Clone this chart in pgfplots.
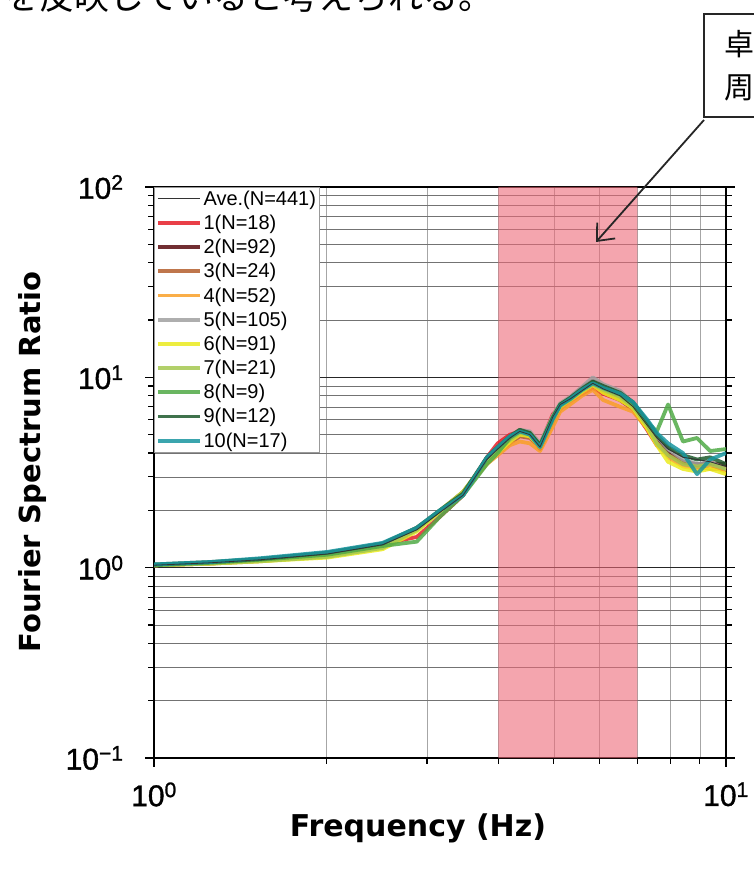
\documentclass[border=0pt]{standalone}
\usepackage{pgfplots}
\pgfplotsset{compat=1.18}
\usepackage{pgfplotstable}
\usepackage{fontspec}
\usetikzlibrary{arrows.meta}
\setmainfont{Liberation Sans}
\newfontfamily\labfont{DejaVu Sans}
\newfontfamily\jpfont{Noto Sans CJK JP}
\newfontfamily\tickfont[FakeBold=1.2]{Liberation Sans}

\definecolor{shade}{RGB}{237,105,120}
\definecolor{cA}{RGB}{230,30,40}
\definecolor{cB}{RGB}{90,10,15}
\definecolor{cC}{RGB}{180,95,45}
\definecolor{cD}{RGB}{250,160,40}
\definecolor{cE}{RGB}{160,160,160}
\definecolor{cF}{RGB}{235,235,30}
\definecolor{cG}{RGB}{165,200,80}
\definecolor{cH}{RGB}{80,170,70}
\definecolor{cI}{RGB}{30,90,45}
\definecolor{cJ}{RGB}{25,150,160}

\pgfplotstableread{
f    ave  s1   s2   s3   s4   s5   s6   s7   s8   s9   s10
1.00 1.03 1.03 1.03 1.03 1.03 1.03 1.03 1.03 1.03 1.04 1.04
1.25 1.06 1.06 1.06 1.05 1.05 1.06 1.05 1.05 1.06 1.07 1.07
1.53 1.10 1.10 1.11 1.09 1.08 1.10 1.08 1.08 1.10 1.11 1.12
2.01 1.18 1.19 1.19 1.17 1.15 1.18 1.13 1.14 1.17 1.20 1.21
2.51 1.32 1.33 1.33 1.33 1.30 1.32 1.25 1.27 1.30 1.34 1.35
2.88 1.58 1.45 1.60 1.62 1.60 1.57 1.55 1.58 1.37 1.62 1.62
3.16 1.95 1.85 1.97 1.98 1.98 1.95 1.97 2.00 1.85 2.00 2.00
3.47 2.40 2.40 2.40 2.50 2.50 2.40 2.50 2.50 2.40 2.45 2.40
3.82 3.70 3.80 3.70 3.60 3.50 3.70 3.60 3.70 3.50 3.80 3.80
3.99 4.20 4.50 4.10 4.00 3.90 4.20 4.00 4.10 4.00 4.30 4.30
4.19 4.80 5.00 4.70 4.50 4.40 4.90 4.60 4.70 4.80 4.90 4.90
4.36 5.20 5.20 5.10 4.90 4.60 5.30 5.00 5.10 5.20 5.30 5.20
4.54 5.00 4.90 5.00 4.80 4.50 5.20 4.90 5.00 5.10 5.10 5.00
4.73 4.30 4.40 4.20 4.30 4.10 4.50 4.30 4.30 4.40 4.40 4.30
4.98 6.20 6.40 5.90 5.80 5.50 6.30 6.00 6.10 6.20 6.10 6.00
5.13 7.20 7.00 7.00 6.80 6.60 7.30 7.00 7.10 7.20 7.20 7.10
5.34 7.70 7.50 7.80 7.60 7.20 7.90 7.60 7.60 7.70 7.80 7.70
5.60 8.50 8.20 8.80 8.60 8.00 8.90 8.40 8.50 8.60 8.70 8.60
5.85 9.30 8.80 9.60 9.30 8.60 10.0 9.10 9.20 9.40 9.50 9.30
6.10 8.70 8.20 9.00 8.40 7.60 9.20 8.30 8.60 8.80 9.00 8.80
6.53 8.00 7.60 8.20 7.60 7.00 8.50 7.60 7.90 8.10 8.30 8.20
6.88 7.00 6.80 7.00 6.80 6.60 7.30 6.90 7.00 7.20 7.40 7.40
7.28 5.60 5.30 5.50 5.40 5.40 5.80 5.40 5.60 5.80 5.90 6.00
7.57 4.80 4.40 4.60 4.50 4.50 4.90 4.40 4.50 5.20 5.00 5.10
7.92 4.20 3.90 4.00 3.90 3.80 4.20 3.60 3.90 7.20 4.30 4.50
8.41 3.80 3.50 3.60 3.60 3.40 3.70 3.30 3.50 4.60 3.90 4.00
8.90 3.70 3.40 3.50 3.40 3.30 3.50 3.20 3.40 4.80 3.70 3.10
9.38 3.60 3.60 3.50 3.30 3.40 3.60 3.30 3.50 4.10 3.80 3.70
10.0 3.40 3.30 3.50 3.30 3.20 3.30 3.10 3.30 4.20 3.50 4.00
}\spec

\begin{document}
\begin{tikzpicture}[x=1pt,y=1pt]
\useasboundingbox (0,0) rectangle (753,876);
\begin{axis}[
  at={(154pt,118pt)}, anchor=south west,
  scale only axis, width=572pt, height=571pt,
  xmode=log, ymode=log,
  xmin=1, xmax=10, ymin=0.1, ymax=100,
  xtick={1,10}, xticklabels={10\textsuperscript{0},10\textsuperscript{1}},
  ytick={0.1,1,10,100},
  yticklabels={10\textsuperscript{−1},10\textsuperscript{0},10\textsuperscript{1},10\textsuperscript{2}},
  minor xtick={2,3,4,5,6,7,8,9},
  minor ytick={0.2,0.3,0.4,0.5,0.6,0.7,0.8,0.9,2,3,4,5,6,7,8,9,20,30,40,50,60,70,80,90},
  ticklabel style={font=\tickfont\fontsize{30}{30}\selectfont},
  yticklabel style={xshift=-18pt},
  xticklabel style={yshift=-12pt},
  xtick pos=bottom, ytick pos=both,
  tick align=outside,
  major tick length=9pt, minor tick length=6pt,
  tick style={black, line width=1.2pt},
  axis line style={line width=1.8pt},
  grid=both,
  major grid style={black!85, line width=1.1pt},
  minor x grid style={black!35, line width=0.6pt},
  minor y grid style={black!55, line width=0.6pt},
  legend cell align=left,
  legend style={at={(axis description cs:0,1)}, anchor=north west,
    draw=black!40, line width=0.5pt, fill=white,
    font=\fontsize{20}{22}\selectfont, inner sep=2pt,
    nodes={inner sep=1.5pt}, row sep=5.2pt},
  legend image code/.code={\draw[#1] (0pt,0pt) -- (42pt,0pt);},
]
\addplot[fill=shade, fill opacity=0.6, draw=none, forget plot]
  coordinates {(4,0.1) (7,0.1) (7,100) (4,100) (4,0.1)};
\addplot[black!80, line width=0.8pt] table[x=f,y=ave]{\spec};
\addlegendentry{Ave.(N=441)}
\addplot[cA, line width=3.8pt, opacity=0.85, line join=round] table[x=f,y=s1]{\spec};
\addlegendentry{1(N=18)}
\addplot[cB, line width=3.8pt, opacity=0.85, line join=round] table[x=f,y=s2]{\spec};
\addlegendentry{2(N=92)}
\addplot[cC, line width=3.8pt, opacity=0.85, line join=round] table[x=f,y=s3]{\spec};
\addlegendentry{3(N=24)}
\addplot[cD, line width=3.8pt, opacity=0.85, line join=round] table[x=f,y=s4]{\spec};
\addlegendentry{4(N=52)}
\addplot[cE, line width=3.8pt, opacity=0.85, line join=round] table[x=f,y=s5]{\spec};
\addlegendentry{5(N=105)}
\addplot[cF, line width=3.8pt, opacity=0.85, line join=round] table[x=f,y=s6]{\spec};
\addlegendentry{6(N=91)}
\addplot[cG, line width=3.8pt, opacity=0.85, line join=round] table[x=f,y=s7]{\spec};
\addlegendentry{7(N=21)}
\addplot[cH, line width=3.8pt, opacity=0.85, line join=round] table[x=f,y=s8]{\spec};
\addlegendentry{8(N=9)}
\addplot[cI, line width=3.8pt, opacity=0.85, line join=round] table[x=f,y=s9]{\spec};
\addlegendentry{9(N=12)}
\addplot[cJ, line width=3.8pt, opacity=0.85, line join=round] table[x=f,y=s10]{\spec};
\addlegendentry{10(N=17)}
\addplot[black!80, line width=0.8pt, forget plot] table[x=f,y=ave]{\spec};
\end{axis}
% axis titles
\node[rotate=90, font=\labfont\bfseries\fontsize{29}{29}\selectfont] at (32,414) {Fourier Spectrum Ratio};
\node[font=\labfont\bfseries\fontsize{30}{30}\selectfont] at (418,48) {Frequency (Hz)};
% surrounding text and callout
\node[anchor=base west, inner sep=0pt, font=\jpfont\fontsize{35}{35}\selectfont] at (4,866) {を反映していると考えられる。};
\draw[line width=1.5pt, black!85] (704,862) rectangle (790,759);
\node[anchor=base west, inner sep=0pt, font=\jpfont\fontsize{30}{30}\selectfont] at (724,820) {卓越};
\node[anchor=base west, inner sep=0pt, font=\jpfont\fontsize{30}{30}\selectfont] at (724,777) {周期};
\draw[line width=1.8pt, black!85, -{Straight Barb[length=14pt,width=24pt,line width=1.8pt]}] (704,756) -- (596,634);
\end{tikzpicture}
\end{document}
